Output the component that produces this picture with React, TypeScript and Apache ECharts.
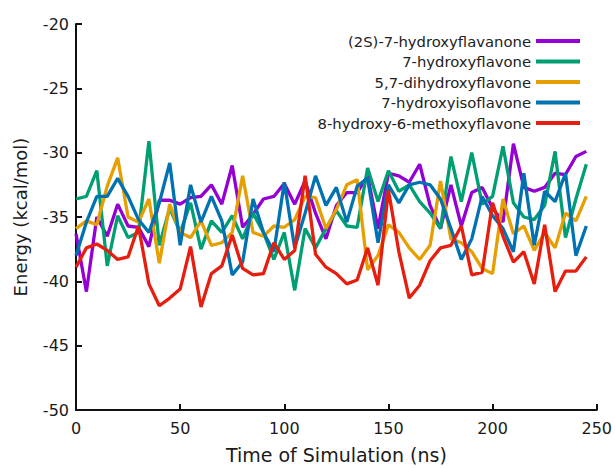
import React, { useEffect, useRef } from "react";
import * as echarts from "echarts";

const times: number[] = [];
for (let t = 0; t <= 245; t += 5) times.push(t);

const seriesNames = [
  "(2S)-7-hydroxyflavanone",
  "7-hydroxyflavone",
  "5,7-dihydroxyflavone",
  "7-hydroxyisoflavone",
  "8-hydroxy-6-methoxyflavone",
];
const colors = ["#9400D3", "#009E73", "#E69F00", "#0072B2", "#E51E10"];

const hydroxyflavanone = [
  -36.3, -40.8, -35.0, -36.5, -34.0, -35.7, -35.8, -37.3, -33.7, -33.7,
  -34.0, -33.5, -33.4, -32.5, -34.0, -31.0, -35.8, -34.8, -33.6, -33.4,
  -32.4, -34.0, -32.2, -34.7, -36.7, -34.1, -33.1, -33.1, -31.8, -35.9,
  -31.6, -31.8, -32.3, -30.9, -34.1, -35.9, -32.5, -35.7, -33.1, -32.7,
  -34.3, -35.4, -29.3, -32.7, -33.0, -32.7, -31.6, -31.7, -30.3, -29.9,
];
const hydroxyflavone = [
  -33.6, -33.4, -31.4, -38.8, -34.9, -36.6, -36.2, -29.1, -37.2, -34.3,
  -36.2, -33.9, -37.5, -35.3, -36.2, -34.9, -36.7, -34.7, -36.2, -38.3,
  -36.2, -40.7, -35.9, -37.4, -35.9, -34.5, -35.7, -35.8, -31.2, -33.8,
  -31.4, -33.0, -32.5, -33.8, -34.7, -35.9, -30.3, -33.8, -30.0, -34.0,
  -33.4, -29.5, -33.9, -35.0, -35.2, -34.1, -29.9, -36.6, -33.6, -30.9,
];
const dihydroxyflavone = [
  -35.9, -35.3, -35.6, -32.6, -30.4, -35.0, -35.4, -33.6, -38.6, -34.0,
  -36.2, -36.6, -35.3, -37.2, -37.0, -36.2, -31.8, -36.2, -36.5, -35.7,
  -35.8, -35.2, -33.4, -33.5, -35.9, -34.4, -32.5, -32.1, -39.1, -38.0,
  -35.6, -36.2, -37.4, -38.3, -37.2, -32.2, -36.7, -37.0, -37.7, -39.0,
  -39.4, -33.6, -36.3, -35.7, -37.6, -36.2, -37.4, -34.7, -35.3, -33.4,
];
const hydroxyisoflavone = [
  -38.0, -35.4, -33.4, -33.4, -32.0, -33.4, -35.2, -36.2, -33.9, -30.8,
  -37.2, -32.5, -35.4, -33.4, -35.3, -39.5, -38.5, -33.6, -36.2, -37.7,
  -32.3, -37.4, -34.7, -31.8, -34.1, -32.7, -35.4, -32.6, -32.0, -37.0,
  -32.5, -33.9, -32.5, -32.3, -32.5, -33.6, -35.9, -38.3, -36.7, -33.4,
  -34.9, -35.9, -37.7, -31.6, -37.2, -33.0, -33.8, -31.6, -38.0, -35.7,
];
const methoxyflavone = [
  -38.9, -37.4, -37.1, -37.6, -38.3, -38.1, -35.7, -40.2, -41.9, -41.3,
  -40.6, -37.3, -42.0, -39.4, -38.8, -36.4, -39.0, -39.5, -39.4, -37.0,
  -38.3, -37.6, -31.8, -37.9, -38.9, -39.4, -40.2, -39.9, -37.4, -40.3,
  -32.9, -37.7, -41.3, -40.3, -38.4, -37.4, -37.2, -35.7, -39.5, -39.3,
  -33.9, -36.5, -38.5, -37.7, -40.2, -35.6, -40.8, -39.2, -39.2, -38.1,
];
const allValues = [hydroxyflavanone, hydroxyflavone, dihydroxyflavone, hydroxyisoflavone, methoxyflavone];

const xTicks = [0, 50, 100, 150, 200, 250];
const yTicks = [-50, -45, -40, -35, -30, -25, -20];

const FONT = "DejaVu Sans";

export default function App() {
  const ref = useRef<HTMLDivElement>(null);
  useEffect(() => {
    if (!ref.current) return;
    const chart = echarts.init(ref.current, undefined, { renderer: "svg" });
    chart.setOption({
      animation: false,
      backgroundColor: "#ffffff",
      grid: { left: 76, right: 17, top: 24, bottom: 57, containLabel: false },
      legend: {
        right: 30,
        top: 28,
        orient: "vertical",
        align: "right",
        icon: "rect",
        itemWidth: 44,
        itemHeight: 4,
        itemGap: 4.5,
        textStyle: { fontFamily: FONT, fontSize: 14.8, color: "#222", lineHeight: 16 },
        data: seriesNames,
      },
      xAxis: {
        type: "value",
        min: xTicks[0],
        max: xTicks[xTicks.length - 1],
        interval: 50,
        name: "Time of Simulation (ns)",
        nameLocation: "middle",
        nameGap: 35,
        nameTextStyle: { fontFamily: FONT, fontSize: 19, color: "#1a1a1a" },
        axisLine: { lineStyle: { color: "#111", width: 2 } },
        axisTick: { inside: true, length: 6, lineStyle: { color: "#111", width: 2 } },
        axisLabel: { fontFamily: FONT, fontSize: 16, color: "#1a1a1a", margin: 10 },
        splitLine: { show: false },
      },
      yAxis: {
        type: "value",
        min: yTicks[0],
        max: yTicks[yTicks.length - 1],
        interval: 5,
        name: "Energy (kcal/mol)",
        nameLocation: "middle",
        nameGap: 47,
        nameTextStyle: { fontFamily: FONT, fontSize: 18, color: "#1a1a1a" },
        axisLine: { show: true, lineStyle: { color: "#111", width: 2 } },
        axisTick: { show: true, inside: true, length: 6, lineStyle: { color: "#111", width: 2 } },
        axisLabel: { fontFamily: FONT, fontSize: 16, color: "#1a1a1a", margin: 7 },
        splitLine: { show: false },
      },
      series: seriesNames.map((name, i) => ({
        name,
        type: "line",
        data: times.map((t, j) => [t, allValues[i][j]]),
        showSymbol: false,
        symbol: "none",
        color: colors[i],
        lineStyle: { color: colors[i], width: 3.3 },
        itemStyle: { color: colors[i] },
      })),
    });
    return () => chart.dispose();
  }, []);
  return (
    <div
      ref={ref}
      style={{ position: "fixed", left: 0, top: 0, width: 615, height: 469 }}
    />
  );
}
